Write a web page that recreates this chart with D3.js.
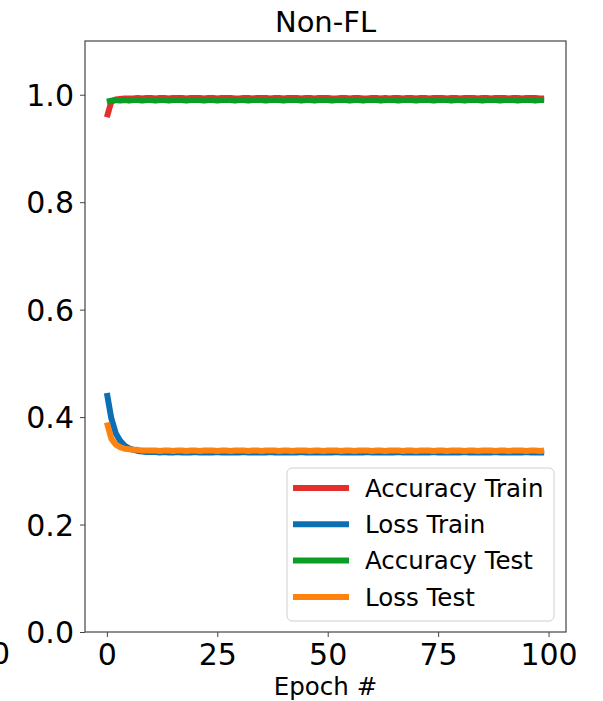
<!DOCTYPE html>
<html><head><meta charset="utf-8">
<script src="https://cdn.jsdelivr.net/npm/d3@7/dist/d3.min.js"></script>
<style>html,body{margin:0;padding:0;background:#fff;overflow:hidden}svg{display:block}</style>
</head><body>
<script>
const title = "Non-FL";
const xLabel = "Epoch #";
const xTicks = [0, 25, 50, 75, 100];
const yTicks = [0.0, 0.2, 0.4, 0.6, 0.8, 1.0];
const seriesNames = ["Accuracy Train", "Loss Train", "Accuracy Test", "Loss Test"];
const seriesColors = ["#e3302c", "#0c6fb4", "#0c9d24", "#ff820f"];

const accuracyTrain = [0.958,0.987,0.991,0.992,0.993,0.993,0.993,0.994,0.993,0.994,
0.994,0.993,0.994,0.994,0.993,0.994,0.994,0.994,0.993,0.994,
0.994,0.994,0.993,0.994,0.994,0.993,0.994,0.994,0.994,0.993,
0.993,0.994,0.994,0.993,0.994,0.994,0.994,0.993,0.994,0.994,
0.993,0.994,0.994,0.994,0.993,0.994,0.994,0.993,0.994,0.994,
0.994,0.993,0.993,0.994,0.994,0.993,0.994,0.994,0.993,0.993,
0.994,0.994,0.993,0.994,0.993,0.994,0.994,0.993,0.994,0.994,
0.993,0.994,0.994,0.993,0.994,0.994,0.994,0.993,0.994,0.994,
0.993,0.994,0.994,0.994,0.993,0.994,0.994,0.993,0.994,0.994,
0.994,0.993,0.994,0.994,0.993,0.994,0.994,0.994,0.993,0.993];
const lossTrain = [0.445,0.398,0.370,0.356,0.347,0.342,0.339,0.337,0.336,0.335,
0.335,0.335,0.334,0.335,0.334,0.334,0.335,0.334,0.334,0.334,
0.335,0.334,0.334,0.334,0.334,0.335,0.334,0.334,0.334,0.334,
0.334,0.335,0.334,0.334,0.334,0.334,0.334,0.335,0.334,0.334,
0.334,0.334,0.334,0.334,0.335,0.334,0.334,0.334,0.334,0.334,
0.334,0.334,0.335,0.334,0.334,0.334,0.334,0.334,0.334,0.335,
0.334,0.334,0.334,0.334,0.334,0.334,0.335,0.334,0.334,0.334,
0.334,0.334,0.334,0.334,0.335,0.334,0.334,0.334,0.334,0.334,
0.334,0.335,0.334,0.334,0.334,0.334,0.334,0.334,0.335,0.334,
0.334,0.334,0.334,0.334,0.334,0.335,0.334,0.334,0.334,0.334];
const accuracyTest = [0.987,0.989,0.990,0.989,0.990,0.989,0.990,0.990,0.989,0.990,
0.990,0.989,0.990,0.990,0.989,0.990,0.990,0.990,0.989,0.990,
0.990,0.990,0.989,0.990,0.990,0.989,0.990,0.990,0.990,0.989,
0.990,0.990,0.989,0.990,0.990,0.990,0.989,0.990,0.990,0.990,
0.989,0.990,0.990,0.990,0.989,0.990,0.990,0.989,0.990,0.990,
0.990,0.989,0.990,0.990,0.990,0.989,0.990,0.990,0.989,0.990,
0.990,0.990,0.989,0.990,0.990,0.990,0.989,0.990,0.990,0.990,
0.989,0.990,0.990,0.990,0.989,0.990,0.990,0.990,0.989,0.990,
0.990,0.989,0.990,0.990,0.990,0.989,0.990,0.990,0.990,0.989,
0.990,0.990,0.990,0.989,0.990,0.990,0.990,0.989,0.990,0.990];
const lossTest = [0.390,0.360,0.349,0.344,0.341,0.340,0.339,0.339,0.338,0.338,
0.338,0.338,0.337,0.338,0.338,0.337,0.338,0.338,0.337,0.338,
0.338,0.337,0.338,0.338,0.338,0.337,0.338,0.338,0.337,0.338,
0.338,0.338,0.337,0.338,0.338,0.337,0.338,0.338,0.338,0.337,
0.338,0.338,0.337,0.338,0.338,0.338,0.337,0.338,0.338,0.337,
0.338,0.338,0.338,0.337,0.338,0.338,0.337,0.338,0.338,0.338,
0.337,0.338,0.338,0.337,0.338,0.338,0.338,0.337,0.338,0.338,
0.337,0.338,0.338,0.338,0.337,0.338,0.338,0.337,0.338,0.338,
0.338,0.337,0.338,0.338,0.337,0.338,0.338,0.338,0.337,0.338,
0.338,0.337,0.338,0.338,0.338,0.337,0.338,0.338,0.337,0.338];
const series = [accuracyTrain, lossTrain, accuracyTest, lossTest];

const W = 603, H = 701;
const m = {left: 85, right: 566, top: 41, bottom: 632};
const font = "DejaVu Sans, sans-serif";

const svg = d3.select("body").append("svg").attr("width", W).attr("height", H);
const x = d3.scaleLinear().domain([-4.95, 103.95]).range([m.left, m.right]);
const y = d3.scaleLinear().domain([0, 1.1]).range([m.bottom, m.top]);

// neighbour subplot's clipped tick label
svg.append("text").attr("x", 10).attr("y", 664).attr("text-anchor", "end")
  .attr("font-family", font).attr("font-size", 30).attr("fill", "#000").text("100");

const g = svg.append("g");
g.append("clipPath").attr("id", "clip").append("rect")
  .attr("x", m.left).attr("y", m.top).attr("width", m.right - m.left).attr("height", m.bottom - m.top);

const line = d3.line().x((d, i) => x(i)).y(d => y(d));
const plot = g.append("g").attr("clip-path", "url(#clip)");
series.forEach((s, k) => {
  plot.append("path").datum(s).attr("d", line).attr("fill", "none")
    .attr("stroke", seriesColors[k]).attr("stroke-width", 6).attr("stroke-linejoin", "round");
});

// axes
const xAxis = d3.axisBottom(x).tickValues(xTicks).tickSize(5).tickPadding(5).tickFormat(d3.format("d"));
const yAxis = d3.axisLeft(y).tickValues(yTicks).tickSize(5).tickPadding(6).tickFormat(d3.format(".1f"));
const gx = g.append("g").attr("transform", `translate(0,${m.bottom})`).call(xAxis);
const gy = g.append("g").attr("transform", `translate(${m.left},0)`).call(yAxis);
[gx, gy].forEach(a => {
  a.select(".domain").remove();
  a.selectAll(".tick line").attr("stroke", "#444").attr("stroke-width", 1);
  a.selectAll(".tick text").attr("font-family", font).attr("font-size", 30).attr("fill", "#000");
});
gy.selectAll(".tick text").attr("dy", "0.36em");
gx.selectAll(".tick text").attr("dy", "0.76em");

// frame
g.append("rect").attr("x", m.left).attr("y", m.top).attr("width", m.right - m.left).attr("height", m.bottom - m.top)
  .attr("fill", "none").attr("stroke", "#444").attr("stroke-width", 1.2);

// title & label
svg.append("text").attr("x", (m.left + m.right) / 2).attr("y", 32).attr("text-anchor", "middle")
  .attr("font-family", font).attr("font-size", 29).attr("fill", "#000").text(title);
svg.append("text").attr("x", (m.left + m.right) / 2).attr("y", 695).attr("text-anchor", "middle")
  .attr("font-family", font).attr("font-size", 24.5).attr("fill", "#000").text(xLabel);

// legend
const lg = svg.append("g");
lg.append("rect").attr("x", 287).attr("y", 468).attr("width", 267).attr("height", 153).attr("rx", 5)
  .attr("fill", "#fff").attr("fill-opacity", 0.8).attr("stroke", "#d0d0d0").attr("stroke-width", 1);
seriesNames.forEach((n, k) => {
  const yy = 488 + k * 36.3;
  lg.append("line").attr("x1", 293).attr("x2", 349).attr("y1", yy).attr("y2", yy)
    .attr("stroke", seriesColors[k]).attr("stroke-width", 6);
  lg.append("text").attr("x", 365).attr("y", yy).attr("dy", "0.36em")
    .attr("font-family", font).attr("font-size", 24.5).attr("fill", "#000").text(n);
});
</script>
</body></html>
